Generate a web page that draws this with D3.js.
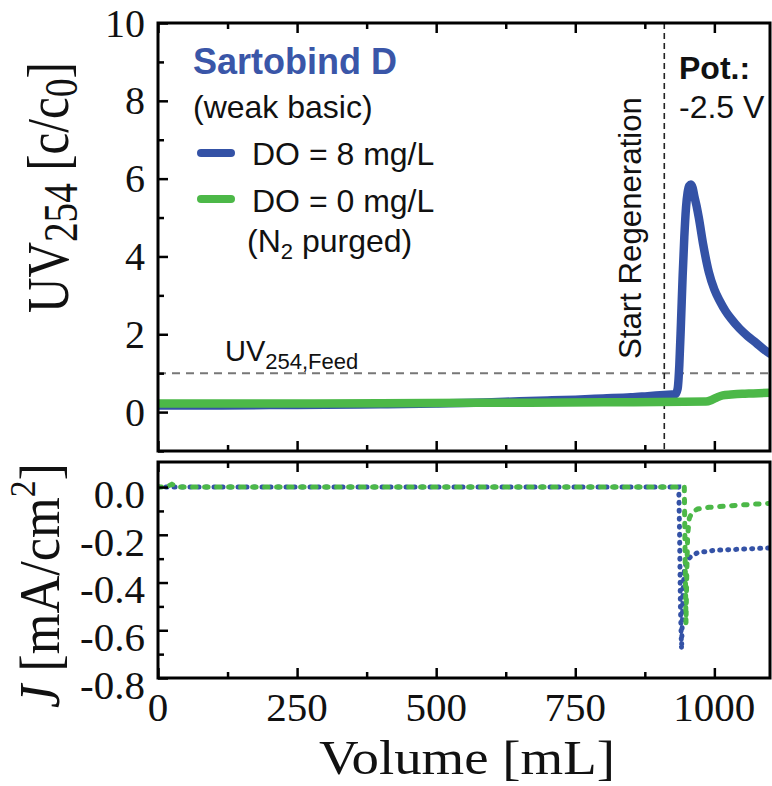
<!DOCTYPE html>
<html><head><meta charset="utf-8">
<script src="https://cdn.jsdelivr.net/npm/d3@7"></script>
<style>body{margin:0;background:#fff}svg{display:block}</style>
</head><body>
<svg id="c" width="772" height="786"></svg>
<script>
// ---- data ----
const xMajorTicks = [0, 250, 500, 750, 1000];
const xMinorTicks = [125, 375, 625, 875];
const uvMajorTicks = [0, 2, 4, 6, 8, 10];
const uvMinorTicks = [-1, 1, 3, 5, 7, 9];
const jMajorTicks = [0, -0.2, -0.4, -0.6, -0.8];
const jMinorTicks = [-0.1, -0.3, -0.5, -0.7];
const jTickLabels = ["0.0", "-0.2", "-0.4", "-0.6", "-0.8"];

const uvBlueVolume = [0,100,200,300,400,500,600,650,700,750,800,850,880,910,930,934,937,940,943,946,949,952,955,958,961,964,968,972,980,990,1000,1010,1020,1030,1045,1060,1075,1090,1100];
const uvBlueValue  = [0.17,0.17,0.18,0.19,0.2,0.22,0.25,0.28,0.3,0.32,0.35,0.38,0.41,0.44,0.46,0.6,1.2,2.3,3.5,4.5,5.25,5.65,5.82,5.85,5.76,5.55,5.3,5.0,4.3,3.6,3.15,2.85,2.6,2.4,2.15,1.95,1.78,1.6,1.5];
const uvGreenVolume = [0,200,400,600,800,900,985,995,1005,1015,1030,1050,1070,1100];
const uvGreenValue  = [0.22,0.22,0.23,0.24,0.25,0.26,0.27,0.31,0.38,0.43,0.45,0.47,0.48,0.5];

const jBlueVolume = [0,200,400,600,800,936,937.5,939,941,942.5,944,946,950,958,970,1000,1050,1100];
const jBlueValue  = [0,0,0,0,0,0,-0.2,-0.5,-0.68,-0.55,-0.42,-0.35,-0.31,-0.29,-0.275,-0.265,-0.26,-0.255];
const jGreenVolume = [0,15,25,35,200,400,600,800,946,947.5,949,950.5,952,955,960,970,990,1030,1070,1100];
const jGreenValue  = [0,0,0.012,0,0,0,0,0,0,-0.3,-0.57,-0.35,-0.2,-0.13,-0.105,-0.092,-0.085,-0.078,-0.072,-0.068];

const regenerationStart = 910;
const feedLevel = 1;

// ---- style ----
const BLUE = "#3452A6", GREEN = "#4CB848", TEXTBLUE = "#3A56A8";
const SERIF = "'Liberation Serif','Times New Roman',serif";
const SANS = "'Liberation Sans',Arial,sans-serif";

const svg = d3.select("#c");
const x = d3.scaleLinear().domain([0, 1100]).range([158, 770]);
const yTop = d3.scaleLinear().domain([-1, 10]).range([451, 23]);
const yBot = d3.scaleLinear().domain([-0.8, 0.105]).range([678, 462]);

const defs = svg.append("defs");
defs.append("clipPath").attr("id","clipTop").append("rect")
  .attr("x",x(0)).attr("y",yTop(10)).attr("width",x(1100)-x(0)).attr("height",yTop(-1)-yTop(10));
defs.append("clipPath").attr("id","clipBot").append("rect")
  .attr("x",x(0)).attr("y",yBot(0.105)).attr("width",x(1100)-x(0)).attr("height",yBot(-0.8)-yBot(0.105));

function clean(g){
  g.select(".domain").remove();
  g.selectAll("line").attr("stroke","#000").attr("stroke-width",2.5);
}
function xTicks(yPos, top){
  const mk = top ? d3.axisTop : d3.axisBottom;
  svg.append("g").attr("transform",`translate(0,${yPos})`)
    .call(mk(x).tickValues(xMajorTicks).tickSize(-10).tickFormat("")).call(clean);
  svg.append("g").attr("transform",`translate(0,${yPos})`)
    .call(mk(x).tickValues(xMinorTicks).tickSize(-6).tickFormat("")).call(clean);
}
function yTicks(scale, major, minor){
  svg.append("g").attr("transform",`translate(${x(0)},0)`)
    .call(d3.axisLeft(scale).tickValues(major).tickSize(-10).tickFormat("")).call(clean);
  svg.append("g").attr("transform",`translate(${x(0)},0)`)
    .call(d3.axisLeft(scale).tickValues(minor).tickSize(-6).tickFormat("")).call(clean);
}

// ---- top panel ----
svg.append("line").attr("x1",x(0)).attr("x2",x(1100)).attr("y1",yTop(feedLevel)).attr("y2",yTop(feedLevel))
  .attr("stroke","#777").attr("stroke-width",2).attr("stroke-dasharray","8,6");
svg.append("line").attr("x1",x(regenerationStart)).attr("x2",x(regenerationStart)).attr("y1",yTop(10)).attr("y2",yTop(-1))
  .attr("stroke","#222").attr("stroke-width",1.6).attr("stroke-dasharray","6,4");

const topG = svg.append("g").attr("clip-path","url(#clipTop)");
const lineTop = d3.line().x(d=>x(d[0])).y(d=>yTop(d[1])).curve(d3.curveMonotoneX);
topG.append("path").datum(d3.zip(uvBlueVolume, uvBlueValue)).attr("d",lineTop)
  .attr("fill","none").attr("stroke",BLUE).attr("stroke-width",8.5).attr("stroke-linejoin","round").attr("stroke-linecap","round");
topG.append("path").datum(d3.zip(uvGreenVolume, uvGreenValue)).attr("d",lineTop)
  .attr("fill","none").attr("stroke",GREEN).attr("stroke-width",8.5).attr("stroke-linejoin","round").attr("stroke-linecap","round");

xTicks(yTop(-1), false);
xTicks(yTop(10), true);
yTicks(yTop, uvMajorTicks, uvMinorTicks);
svg.append("rect").attr("x",x(0)).attr("y",yTop(10)).attr("width",x(1100)-x(0)).attr("height",yTop(-1)-yTop(10))
  .attr("fill","none").attr("stroke","#000").attr("stroke-width",3);

svg.append("g").selectAll("text").data(uvMajorTicks).join("text")
  .attr("x",145).attr("y",d=>yTop(d)).attr("dy","0.34em").attr("text-anchor","end")
  .attr("font-family",SERIF).attr("font-size",40).attr("fill","#111").text(d=>d);

// ---- bottom panel ----
const botG = svg.append("g").attr("clip-path","url(#clipBot)");
const lineBot = d3.line().x(d=>x(d[0])).y(d=>yBot(d[1]));
botG.append("path").datum(d3.zip(jBlueVolume, jBlueValue)).attr("d",lineBot)
  .attr("fill","none").attr("stroke",BLUE).attr("stroke-width",5).attr("stroke-linecap","round")
  .attr("stroke-dasharray","1,7");
botG.append("path").datum(d3.zip(jGreenVolume, jGreenValue)).attr("d",lineBot)
  .attr("fill","none").attr("stroke",GREEN).attr("stroke-width",5).attr("stroke-linecap","round")
  .attr("stroke-dasharray","3.5,8.5");

xTicks(yBot(-0.8), false);
xTicks(yBot(0.105), true);
yTicks(yBot, jMajorTicks, jMinorTicks);
svg.append("rect").attr("x",x(0)).attr("y",yBot(0.105)).attr("width",x(1100)-x(0)).attr("height",yBot(-0.8)-yBot(0.105))
  .attr("fill","none").attr("stroke","#000").attr("stroke-width",3);

svg.append("g").selectAll("text").data(jMajorTicks).join("text")
  .attr("x",145).attr("y",d=>yBot(d)+7).attr("dy","0.34em").attr("text-anchor","end")
  .attr("font-family",SERIF).attr("font-size",41).attr("fill","#111").text((d,i)=>jTickLabels[i]);

svg.append("g").selectAll("text").data(xMajorTicks).join("text")
  .attr("x",d=>x(d)).attr("y",721).attr("text-anchor","middle")
  .attr("font-family",SERIF).attr("font-size",41).attr("fill","#111").text(d=>d);

// ---- axis titles ----
function fitted(build, L, tf){
  const t = svg.append("text").attr("fill","#111");
  build(t);
  const w = t.node().getBBox().width;
  t.attr("transform", tf(L / w));
  return t;
}
fitted(t=>{
  t.attr("font-family",SERIF).attr("text-anchor","middle").attr("font-size",48).text("Volume [mL]");
}, 296, s=>`translate(467,774) scale(${s},1)`);

fitted(t=>{
  t.attr("font-family",SERIF).attr("font-size",60);
  t.append("tspan").text("UV");
  t.append("tspan").attr("font-size",48).attr("dy",9).text("254");
  t.append("tspan").attr("dy",-9).text(" [c/c");
  t.append("tspan").attr("font-size",46).attr("dy",9).text("0");
  t.append("tspan").attr("dy",-9).text("]");
}, 251, s=>`translate(68,313) rotate(-90) scale(${s},1)`);

fitted(t=>{
  t.attr("font-family",SERIF).attr("font-size",56);
  t.append("tspan").attr("font-style","italic").text("J");
  t.append("tspan").text(" [mA/cm");
  t.append("tspan").attr("font-size",36).attr("dy",-24).text("2");
  t.append("tspan").attr("dy",24).text("]");
}, 245, s=>`translate(59,708) rotate(-90) scale(${s},1)`);

// ---- annotations ----
svg.append("text").attr("x",193).attr("y",74).attr("font-family",SANS).attr("font-weight","bold")
  .attr("font-size",36).attr("fill",TEXTBLUE).text("Sartobind D");
svg.append("text").attr("x",193).attr("y",118).attr("font-family",SANS).attr("font-size",32)
  .attr("fill","#111").text("(weak basic)");

const legendItems = [
  {label:"DO = 8 mg/L", color:BLUE, ly:153, ty:165},
  {label:"DO = 0 mg/L", color:GREEN, ly:199, ty:212}
];
legendItems.forEach(it=>{
  svg.append("line").attr("x1",201).attr("x2",231).attr("y1",it.ly).attr("y2",it.ly)
    .attr("stroke",it.color).attr("stroke-width",8).attr("stroke-linecap","round");
  svg.append("text").attr("x",252).attr("y",it.ty).attr("font-family",SANS).attr("font-size",32)
    .attr("fill","#111").text(it.label);
});
const n2 = svg.append("text").attr("x",247).attr("y",252).attr("font-family",SANS).attr("font-size",32).attr("fill","#111");
n2.append("tspan").text("(N");
n2.append("tspan").attr("font-size",22).attr("dy",7).text("2");
n2.append("tspan").attr("dy",-7).text(" purged)");

const feed = svg.append("text").attr("x",225).attr("y",361).attr("font-family",SANS).attr("font-size",29).attr("fill","#111");
feed.append("tspan").text("UV");
feed.append("tspan").attr("font-size",22).attr("dy",8).text("254,Feed");

fitted(t=>{
  t.attr("font-family",SANS).attr("font-size",32).text("Start Regeneration");
}, 262, s=>`translate(641,359) rotate(-90) scale(${s},1)`);

svg.append("text").attr("x",679).attr("y",79).attr("font-family",SANS).attr("font-weight","bold")
  .attr("font-size",32).attr("fill","#111").text("Pot.:");
svg.append("text").attr("x",679).attr("y",118).attr("font-family",SANS)
  .attr("font-size",32).attr("fill","#111").text("-2.5 V");
</script>
</body></html>
